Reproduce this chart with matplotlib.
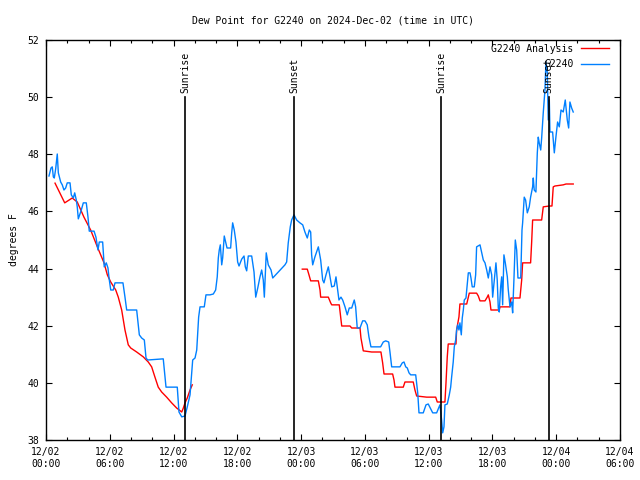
import numpy as np
import matplotlib
matplotlib.use("Agg")
import matplotlib.pyplot as plt
from matplotlib.ticker import MultipleLocator, FixedLocator

# time is hours since 2024-12-02 00:00 UTC, values in degrees F
obs_hours = [
    0.28, 0.47, 0.59, 0.69, 0.78, 0.91, 1.06, 1.16, 1.38, 1.53, 1.69, 1.85, 2.00, 2.26,
    2.38, 2.57, 2.70, 2.85, 2.94, 3.04, 3.17, 3.32, 3.51, 3.79, 3.95, 4.07, 4.52, 4.70,
    4.89, 5.01, 5.33, 5.48, 5.67, 5.83, 5.93, 6.09, 6.33, 6.49, 7.24, 7.43, 7.59, 8.53,
    8.78, 9.00, 9.25, 9.41, 9.57, 11.03, 11.29, 12.35, 12.51, 12.77, 13.08, 13.29, 13.55,
    13.80, 14.02, 14.18, 14.36, 14.49, 14.89, 15.05, 15.43, 15.74, 15.96, 16.11, 16.21,
    16.30, 16.40, 16.53, 16.62, 16.77, 16.90, 17.03, 17.37, 17.47, 17.56, 17.71, 17.87,
    18.03, 18.16, 18.41, 18.63, 18.75, 18.88, 19.03, 19.35, 19.57, 19.73, 19.92, 20.13,
    20.29, 20.44, 20.54, 20.72, 20.91, 21.17, 21.33, 22.48, 22.64, 22.79, 22.98, 23.11,
    23.33, 23.58, 23.89, 24.15, 24.36, 24.58, 24.77, 24.90, 24.99, 25.09, 25.30, 25.62,
    25.84, 26.03, 26.15, 26.34, 26.56, 26.88, 27.12, 27.28, 27.44, 27.56, 27.75, 27.91,
    28.13, 28.34, 28.53, 28.76, 29.00, 29.13, 29.28, 29.54, 29.79, 30.01, 30.22, 30.38,
    30.57, 31.48, 31.73, 31.96, 32.24, 32.36, 32.52, 33.30, 33.52, 33.68, 33.84, 33.99,
    34.15, 34.31, 34.78, 34.97, 35.09, 35.49, 35.75, 35.96, 36.19, 36.38, 36.75, 36.94,
    37.06, 37.22, 37.32, 37.44, 37.53, 37.75, 37.94, 38.07, 38.16, 38.31, 38.41, 38.54,
    38.63, 38.73, 38.85, 38.94, 39.07, 39.16, 39.26, 39.35, 39.51, 39.58, 39.73, 39.89,
    39.98, 40.10, 40.29, 40.42, 40.51, 40.83, 40.99, 41.14, 41.30, 41.46, 41.61, 41.77,
    41.93, 42.02, 42.17, 42.33, 42.45, 42.55, 42.64, 42.77, 42.87, 42.96, 43.08, 43.21,
    43.40, 43.49, 43.65, 43.81, 43.90, 44.02, 44.15, 44.28, 44.40, 44.66, 44.78, 44.84,
    44.99, 45.12, 45.28, 45.46, 45.59, 45.78, 45.84, 45.93, 46.09, 46.22, 46.31, 46.40,
    46.54, 46.63, 46.78, 46.94, 47.03, 47.16, 47.25, 47.35, 47.41, 47.66, 47.82, 47.97,
    48.13, 48.29, 48.45, 48.66, 48.85, 49.04, 49.17, 49.29, 49.45, 49.60,
]
obs_dewpt = [
    47.24, 47.52, 47.56, 47.21, 47.17, 47.49, 48.01, 47.35, 47.03, 46.93, 46.75, 46.82, 47.00, 47.00,
    46.58, 46.47, 46.65, 46.40, 46.16, 45.74, 45.88, 46.05, 46.30, 46.30, 45.80, 45.31, 45.31, 45.10,
    44.65, 44.93, 44.93, 44.06, 44.20, 44.02, 43.67, 43.25, 43.25, 43.50, 43.50, 43.00, 42.55, 42.55,
    41.68, 41.57, 41.50, 40.87, 40.80, 40.84, 39.85, 39.85, 38.98, 38.81, 38.84, 39.16, 39.58,
    40.80, 40.87, 41.15, 42.30, 42.66, 42.66, 43.08, 43.08, 43.11, 43.25, 43.71, 44.37,
    44.65, 44.83, 44.13, 44.37, 45.14, 44.93, 44.72, 44.72, 45.25, 45.60, 45.35, 44.93,
    44.23, 44.09, 44.33, 44.44, 44.06, 43.92, 44.44, 44.44, 43.88, 43.00, 43.32, 43.71,
    43.95, 43.60, 43.00, 44.55, 44.13, 43.95, 43.67, 44.13, 44.23, 44.90, 45.46, 45.70,
    45.88, 45.70, 45.60, 45.53, 45.28, 45.07, 45.35, 45.28, 44.48, 44.13, 44.41, 44.76,
    44.30, 43.60, 43.50, 43.78, 44.06, 43.36, 43.39, 43.71, 43.25, 42.90, 43.00, 42.90,
    42.66, 42.38, 42.62, 42.62, 42.90, 42.66, 41.92, 41.92, 42.17, 42.17, 42.03, 41.61,
    41.26, 41.26, 41.43, 41.47, 41.43, 41.08, 40.56, 40.56, 40.70, 40.73, 40.56, 40.52,
    40.35, 40.28, 40.28, 39.65, 38.95, 38.95, 39.23, 39.26, 39.09, 38.95, 38.95, 39.12,
    39.23, 38.70, 38.25, 38.46, 39.23, 39.26, 39.58, 39.85, 40.20, 40.73, 41.26, 41.50,
    41.85, 42.03, 41.85, 42.10, 41.68, 42.27, 42.55, 42.90, 42.97, 43.25, 43.85, 43.85,
    43.67, 43.36, 43.36, 43.78, 44.76, 44.83, 44.55, 44.30, 44.20, 43.95, 43.67, 44.06,
    43.78, 43.00, 43.60, 44.20, 43.60, 42.62, 42.48, 43.36, 43.71, 42.73, 44.48, 44.20,
    43.71, 43.25, 42.66, 42.83, 42.45, 43.60, 45.00, 44.65, 43.67, 43.67, 45.35, 45.60,
    46.50, 46.40, 45.95, 46.16, 46.50, 46.86, 47.17, 46.75, 46.68, 48.05, 48.60, 48.40,
    48.15, 48.57, 49.45, 50.25, 51.23, 50.85, 49.20, 49.90, 48.78, 48.78, 48.05, 48.60,
    49.13, 48.96, 49.55, 49.48, 49.90, 49.20, 48.92, 49.83, 49.62, 49.48,
]

# analysis series, NaN marks the gap between the two runs
ana_hours = [
    0.85, 1.76, 2.47, 2.94, 3.57, 4.20, 4.83, 5.46, 5.77, 6.09, 6.56, 6.80, 7.12, 7.43,
    7.74, 7.97, 8.53, 9.15, 9.62, 9.94, 10.25, 10.56, 10.88, 11.35, 11.82, 12.29, 12.77,
    12.92, 13.08, 13.29, 13.55, 13.76,
    np.nan,
    24.11, 24.58, 24.74, 24.90, 25.62, 25.78, 25.84, 26.56, 26.78, 26.88, 27.59, 27.72,
    27.82, 28.60, 28.76, 29.54, 29.63, 29.85, 30.64, 31.51, 31.67, 31.80, 32.61, 32.74,
    32.83, 33.61, 33.77, 34.55, 34.71, 34.87, 35.81, 36.66, 36.81, 37.53, 37.63, 37.75,
    37.84, 38.57, 38.63, 38.85, 38.94, 39.58, 39.82, 40.51, 40.67, 40.83, 41.30, 41.51,
    41.61, 41.77, 41.86, 42.64, 42.71, 43.65, 43.74, 44.59, 44.75, 44.84, 45.59, 45.69,
    45.78, 46.63, 46.78, 47.35, 47.60, 47.72, 47.88, 48.66, 48.92, 49.60,
]
ana_dewpt = [
    46.99, 46.30, 46.47, 46.33, 45.80, 45.35, 44.76, 44.20, 43.78, 43.53, 43.25, 43.00, 42.55, 41.85,
    41.33, 41.22, 41.08, 40.91, 40.73, 40.56, 40.20, 39.85, 39.68, 39.50, 39.30, 39.12, 38.98,
    39.12, 39.30, 39.47, 39.75, 39.93,
    np.nan,
    43.98, 43.98, 43.78, 43.57, 43.57, 43.25, 43.00, 43.00, 42.80, 42.73, 42.73, 42.31,
    41.99, 41.99, 41.92, 41.92, 41.57, 41.12, 41.08, 41.08, 40.70, 40.31, 40.31, 40.10,
    39.85, 39.85, 40.03, 40.03, 39.75, 39.54, 39.50, 39.50, 39.33, 39.33, 40.00, 40.91,
    41.36, 41.36, 41.85, 42.31, 42.76, 42.76, 43.14, 43.14, 43.04, 42.87, 42.87, 43.00,
    43.08, 42.83, 42.55, 42.55, 42.66, 42.66, 42.97, 42.97, 43.60, 44.20, 44.20, 44.93,
    45.70, 45.70, 46.16, 46.19, 46.19, 46.86, 46.89, 46.93, 46.96, 46.96,
]

sun_events = ["Sunrise", "Sunset", "Sunrise", "Sunset"]
sun_hours = [13.08, 23.33, 37.15, 47.30]

x_ticks = [0, 6, 12, 18, 24, 30, 36, 42, 48, 54]
x_labels = ["12/02\n00:00", "12/02\n06:00", "12/02\n12:00", "12/02\n18:00",
            "12/03\n00:00", "12/03\n06:00", "12/03\n12:00", "12/03\n18:00",
            "12/04\n00:00", "12/04\n06:00"]

plt.rcParams["font.family"] = ["DejaVu Sans Mono"]
plt.rcParams["font.size"] = 7

fig = plt.figure(figsize=(6.4, 4.8), dpi=100)
ax = fig.add_axes([46 / 640, 40 / 480, 574 / 640, 400 / 480])

ax.plot(ana_hours, ana_dewpt, color="#ff0000", lw=1.0, label="G2240 Analysis")
ax.plot(obs_hours, obs_dewpt, color="#0080ff", lw=1.0, label="G2240")

for name, h in zip(sun_events, sun_hours):
    ax.plot([h, h], [38, 50.0], color="black", lw=1.2)
    ax.text(h, 50.15, name, rotation=90, ha="center", va="bottom")

ax.set_xlim(0, 54)
ax.set_ylim(38, 52)
ax.xaxis.set_major_locator(FixedLocator(x_ticks))
ax.set_xticklabels(x_labels)
ax.xaxis.set_minor_locator(MultipleLocator(2))
ax.yaxis.set_major_locator(MultipleLocator(2))
ax.tick_params(which="both", direction="in", top=True, right=True, color="black")
ax.tick_params(which="major", length=4, width=0.8, pad=5)
ax.tick_params(which="minor", length=2.5, width=0.8)
for s in ax.spines.values():
    s.set_linewidth(1.0)

ax.set_ylabel("degrees F", labelpad=6)
ax.set_title("Dew Point for G2240 on 2024-Dec-02 (time in UTC)", fontsize=7, pad=12)

ax.legend(loc="upper right", bbox_to_anchor=(0.992, 1.0075), frameon=False,
          markerfirst=False, handlelength=2.8, borderaxespad=0.3,
          labelspacing=0.55, handletextpad=0.8)

fig.savefig("out.png", dpi=100)
